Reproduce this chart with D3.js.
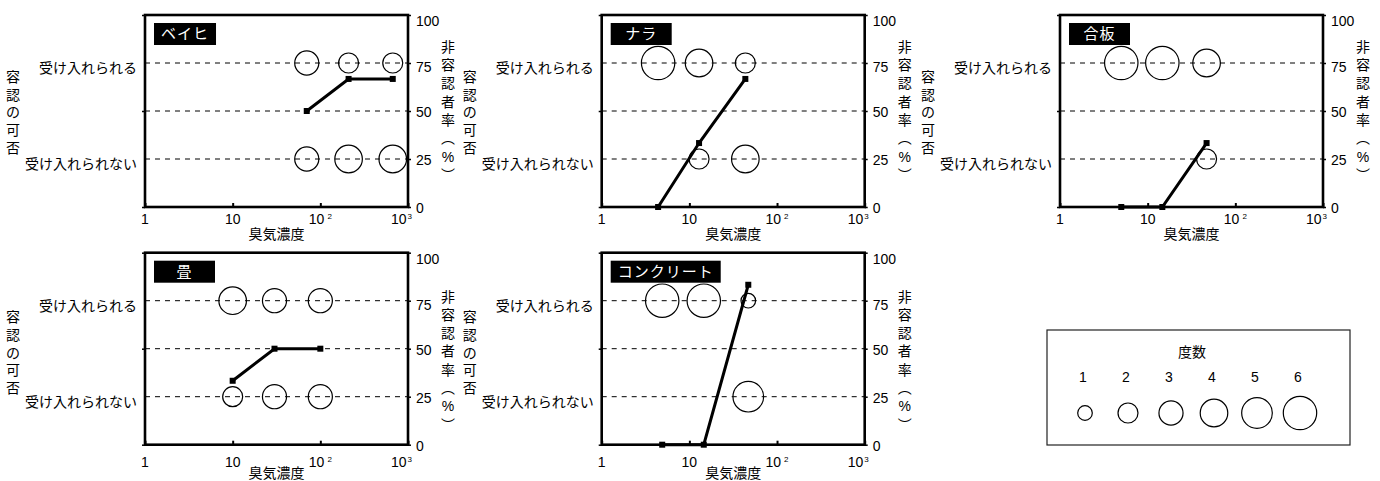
<!DOCTYPE html>
<html><head><meta charset="utf-8">
<script src="https://cdn.jsdelivr.net/npm/d3@7"></script>
<style>
body{margin:0;background:#fff}
svg{display:block}
text{font-family:"Liberation Sans",Arial,"Noto Sans CJK JP",sans-serif;fill:#000}
</style>
</head><body>
<svg id="chart" width="1380" height="481"></svg>
<script>
// ---- data ----
const materials = ["ベイヒ", "ナラ", "合板", "畳", "コンクリート"];

const concBeihi = [70, 210, 670];
const acceptBeihi = [3, 2, 2];
const rejectBeihi = [3, 4, 4];
const rateBeihi = [50, 66.7, 66.7];

const concNara = [4.4, 12.9, 43.5];
const acceptNara = [6, 4, 2];
const rejectNara = [0, 2, 4];
const rateNara = [0, 33.3, 66.7];

const concGohan = [5, 14.7, 47];
const acceptGohan = [6, 6, 4];
const rejectGohan = [0, 0, 2];
const rateGohan = [0, 0, 33.3];

const concTatami = [10, 30, 100];
const acceptTatami = [4, 3, 3];
const rejectTatami = [2, 3, 3];
const rateTatami = [33.3, 50, 50];

const concConcrete = [4.9, 14.6, 47];
const acceptConcrete = [6, 6, 1];
const rejectConcrete = [0, 0, 5];
const rateConcrete = [0, 0, 83.3];

const xTickValues = [1, 10, 100, 1000];
const xTickBase = ["1", "10", "10", "10"];
const xTickExp = ["", "", "2", "3"];
const yTickValues = [0, 25, 50, 75, 100];
const categoryLabels = ["受け入れられる", "受け入れられない"];
const categoryValues = [75, 25];
const leftTitle = "容認の可否";
const rightTitle = ["非", "容", "認", "者", "率", "︵", "%", "︶"];
const xTitle = "臭気濃度";
const legendTitle = "度数";
const legendCounts = [1, 2, 3, 4, 5, 6];

const panelsData = [
  {name: materials[0], conc: concBeihi, acc: acceptBeihi, rej: rejectBeihi, rate: rateBeihi},
  {name: materials[1], conc: concNara, acc: acceptNara, rej: rejectNara, rate: rateNara},
  {name: materials[2], conc: concGohan, acc: acceptGohan, rej: rejectGohan, rate: rateGohan},
  {name: materials[3], conc: concTatami, acc: acceptTatami, rej: rejectTatami, rate: rateTatami},
  {name: materials[4], conc: concConcrete, acc: acceptConcrete, rej: rejectConcrete, rate: rateConcrete}
];

// ---- layout ----
const W = 263, H = 192;
const layout = [
  {x: 145, y: 15, row: 0}, {x: 601.7, y: 15, row: 0}, {x: 1060, y: 15, row: 0},
  {x: 145, y: 252.7, row: 1}, {x: 601.7, y: 252.7, row: 1}
];
const rowCfg = [
  {tickLab: 12, xTitle: 27, lShift: 1.5, rShift: 0},
  {tickLab: 17, xTitle: 28.5, lShift: 4, rShift: 12}
];
const FS = 14;

const svg = d3.select("#chart");
const rScale = d3.scalePow().exponent(0.5).domain([1, 6]).range([7.3, 16.7]);

panelsData.forEach((p, i) => {
  const L = layout[i], rc = rowCfg[L.row];
  const g = svg.append("g").attr("transform", `translate(${L.x},${L.y})`);
  const x = d3.scaleLog().domain([1, 1000]).range([0, W]);
  const y = d3.scaleLinear().domain([0, 100]).range([H, 0]);

  // dashed grid lines
  g.selectAll(".grid").data(categoryValues.concat([50])).join("line")
    .attr("x1", 0).attr("x2", W)
    .attr("y1", d => y(d)).attr("y2", d => y(d))
    .attr("stroke", "#000").attr("stroke-width", 1)
    .attr("stroke-dasharray", "5,5");

  // bubbles
  const bub = [];
  p.conc.forEach((c, k) => {
    if (p.acc[k] > 0) bub.push({c, v: 75, n: p.acc[k]});
    if (p.rej[k] > 0) bub.push({c, v: 25, n: p.rej[k]});
  });
  g.selectAll(".bub").data(bub).join("circle")
    .attr("cx", d => x(d.c)).attr("cy", d => y(d.v)).attr("r", d => rScale(d.n))
    .attr("fill", "none").attr("stroke", "#000").attr("stroke-width", 1.2);

  // line + markers
  const pts = p.conc.map((c, k) => [c, p.rate[k]]);
  g.append("path").attr("d", d3.line().x(d => x(d[0])).y(d => y(d[1]))(pts))
    .attr("fill", "none").attr("stroke", "#000").attr("stroke-width", 3);
  g.selectAll(".mk").data(pts).join("rect")
    .attr("x", d => x(d[0]) - 3).attr("y", d => y(d[1]) - 3)
    .attr("width", 6).attr("height", 6).attr("fill", "#000");

  // right axis
  const ra = g.append("g").attr("transform", `translate(${W},0)`)
    .call(d3.axisRight(y).tickValues(yTickValues).tickSize(3).tickPadding(5));
  ra.select(".domain").remove();
  ra.selectAll("line").attr("stroke", "#000").attr("stroke-width", 1.5);
  ra.selectAll("text").attr("font-size", FS).attr("font-family", null)
    .attr("y", d => d === 100 ? 6 : (d === 75 ? 4 : 1));

  // left axis ticks
  const la = g.append("g").call(d3.axisLeft(y).tickValues([0, 50, 100]).tickSize(3).tickFormat(""));
  la.select(".domain").remove();
  la.selectAll("line").attr("stroke", "#000").attr("stroke-width", 1.5);

  // bottom axis ticks (inward)
  const ba = g.append("g").attr("transform", `translate(0,${H})`)
    .call(d3.axisBottom(x).tickValues(xTickValues).tickSize(-4).tickFormat(""));
  ba.select(".domain").remove();
  ba.selectAll("line").attr("stroke", "#000").attr("stroke-width", 2);

  // x tick labels
  xTickValues.forEach((v, k) => {
    const last = k === xTickValues.length - 1;
    const t = g.append("text")
      .attr("x", last ? x(v) + 4 : x(v))
      .attr("y", H + rc.tickLab).attr("dy", "0.35em")
      .attr("text-anchor", last ? "end" : "middle")
      .attr("font-size", FS);
    t.append("tspan").text(xTickBase[k]);
    if (xTickExp[k]) t.append("tspan").attr("font-size", 8).attr("dy", "-0.6em").attr("dx", xTickExp[k] === "2" ? 3 : 1).text(xTickExp[k]);
  });

  // x title
  g.append("text").attr("x", W / 2).attr("y", H + rc.xTitle).attr("dy", "0.35em")
    .attr("text-anchor", "middle").attr("font-size", FS).text(xTitle);

  // category labels
  categoryLabels.forEach((lab, k) => {
    g.append("text").attr("x", -8).attr("y", y(categoryValues[k]) + 5).attr("dy", "0.35em")
      .attr("text-anchor", "end").attr("font-size", FS).text(lab);
  });

  // left vertical title
  const lchars = Array.from(leftTitle);
  lchars.forEach((ch, k) => {
    g.append("text").attr("x", -132)
      .attr("y", H / 2 + rc.lShift + (k - (lchars.length - 1) / 2) * 17.8).attr("dy", "0.35em")
      .attr("text-anchor", "middle").attr("font-size", FS).text(ch);
  });

  // right vertical title
  rightTitle.forEach((ch, k) => {
    g.append("text").attr("x", W + 40)
      .attr("y", H / 2 + rc.rShift + (k - (rightTitle.length - 1) / 2) * 18.3).attr("dy", "0.35em")
      .attr("text-anchor", "middle").attr("font-size", FS).text(ch);
  });

  // border
  g.append("rect").attr("x", 0).attr("y", 0).attr("width", W).attr("height", H)
    .attr("fill", "none").attr("stroke", "#000").attr("stroke-width", 2.6);

  // material label
  const lbl = g.append("g").attr("transform", "translate(9,8)");
  const bg = lbl.append("rect").attr("height", 22).attr("fill", "#000");
  const tx = lbl.append("text").attr("y", 11).attr("dy", "0.36em").attr("text-anchor", "middle")
    .attr("font-size", 15).attr("letter-spacing", 1).style("fill", "#fff").text(p.name);
  const tw = tx.node().getComputedTextLength();
  const bw = Math.max(61, tw + 14);
  bg.attr("width", bw);
  tx.attr("x", bw / 2);
});

// ---- legend ----
const lg = svg.append("g");
lg.append("rect").attr("x", 1047).attr("y", 330).attr("width", 303).attr("height", 115)
  .attr("fill", "none").attr("stroke", "#222").attr("stroke-width", 1.2);
lg.append("text").attr("x", 1192).attr("y", 352).attr("dy", "0.35em").attr("text-anchor", "middle")
  .attr("font-size", FS).text(legendTitle);
const lx = d3.scalePoint().domain(legendCounts).range([1085, 1300]);
lg.selectAll(".ln").data(legendCounts).join("text")
  .attr("x", d => lx(d) - 2).attr("y", 377).attr("dy", "0.35em").attr("text-anchor", "middle")
  .attr("font-size", FS).text(d => d);
lg.selectAll(".lc").data(legendCounts).join("circle")
  .attr("cx", d => lx(d)).attr("cy", 413).attr("r", d => rScale(d))
  .attr("fill", "none").attr("stroke", "#000").attr("stroke-width", 1.2);
</script>
</body></html>
